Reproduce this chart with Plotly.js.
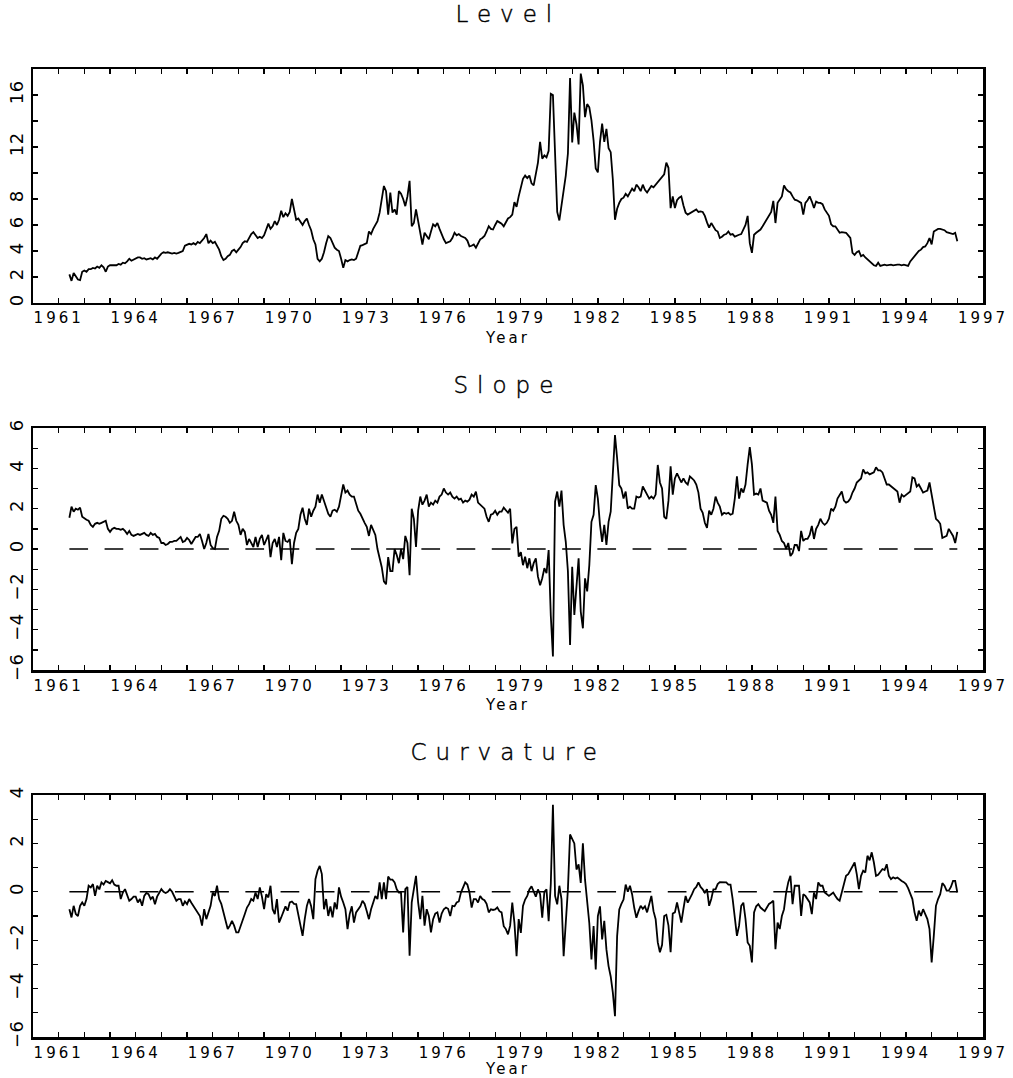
<!DOCTYPE html>
<html>
<head>
<meta charset="utf-8">
<script src="https://cdn.plot.ly/plotly-3.0.1.min.js"></script>
<style>
  html, body { margin: 0; padding: 0; background: #fff; }
  #chart { width: 1013px; height: 1078px; }
  #chart svg text { letter-spacing: 3px; }
  #chart .ytick text, #chart .y2tick text, #chart .y3tick text { letter-spacing: 0.5px; }
  #chart .annotation-text { letter-spacing: 9px; stroke: #000; stroke-width: 0.45px; }
</style>
</head>
<body>
<div id="chart"></div>
<script>
// Monthly series, June 1961 – January 1996
const startYear = 1961;
const startMonth = 6;

const level = [
  2.2,1.7,2.3,2.0,1.8,1.75,2.4,                                   // 1961 Jun-Dec
  2.5,2.4,2.6,2.6,2.7,2.65,2.8,2.7,2.9,2.75,2.4,2.8,              // 1962
  2.9,2.9,2.85,2.9,3.0,2.95,3.1,3.05,3.2,3.4,3.25,3.35,           // 1963
  3.45,3.5,3.5,3.4,3.45,3.35,3.4,3.45,3.35,3.5,3.4,3.6,           // 1964
  3.8,3.9,3.85,3.9,3.85,3.8,3.85,3.8,3.85,3.9,4.0,4.4,            // 1965
  4.5,4.55,4.5,4.6,4.5,4.7,4.6,4.8,5.0,5.3,4.6,4.8,               // 1966
  4.6,4.7,4.4,4.1,3.6,3.3,3.4,3.6,3.7,4.0,4.1,3.9,                // 1967
  4.1,4.3,4.6,4.75,4.7,5.0,5.3,5.45,5.2,5.0,5.1,5.0,              // 1968
  5.2,5.6,6.1,5.7,5.9,6.3,6.0,6.4,7.1,6.6,6.9,6.7,                // 1969
  7.0,8.0,7.3,6.4,6.5,6.2,6.0,6.3,6.5,6.0,5.6,4.9,                // 1970
  4.5,3.4,3.2,3.4,3.9,4.6,5.15,5.0,4.6,4.25,4.1,4.0,              // 1971
  3.4,2.7,3.3,3.2,3.3,3.35,3.3,3.4,3.9,4.4,4.45,4.5,              // 1972
  4.6,5.5,5.3,5.7,6.05,6.3,6.95,8.0,9.0,8.6,6.8,8.5,              // 1973
  6.95,7.2,6.8,8.6,8.4,8.0,7.45,8.2,9.4,5.9,6.15,7.2,             // 1974
  6.2,5.2,4.5,5.4,5.1,4.9,5.5,6.05,5.9,6.15,5.7,5.25,             // 1975
  4.9,4.6,4.7,4.75,5.0,5.4,5.2,5.3,5.15,5.1,5.0,4.8,              // 1976
  4.35,4.4,4.5,4.25,4.6,4.9,5.0,5.15,5.5,5.9,5.7,5.65,            // 1977
  6.0,6.3,6.2,6.1,5.9,6.2,6.5,6.6,6.8,7.75,7.4,8.2,               // 1978
  8.8,9.55,9.8,9.6,9.8,9.2,9.05,10.05,10.8,12.4,11.1,11.35,       // 1979
  11.2,11.7,16.1,16.0,12.1,7.0,6.35,7.5,8.5,9.8,11.5,17.3,        // 1980
  12.35,14.65,13.75,12.2,17.65,16.75,14.3,15.3,15.05,14.05,12.5,10.35, // 1981
  10.05,12.4,13.8,12.4,13.4,11.9,11.6,9.5,6.4,7.25,7.7,8.0,       // 1982
  8.1,8.4,8.2,8.5,8.8,8.6,9.1,8.9,8.6,9.1,8.7,8.5,                // 1983
  8.8,9.0,8.9,9.1,9.25,9.5,9.65,9.9,10.8,10.4,7.3,8.2,            // 1984
  7.3,7.9,8.1,8.2,7.5,6.95,6.8,6.9,7.0,7.1,7.2,7.0,               // 1985
  7.05,7.0,6.7,6.2,5.8,6.15,5.9,5.6,5.5,5.0,5.1,5.25,             // 1986
  5.3,5.5,5.25,5.3,5.1,5.2,5.25,5.3,5.65,6.0,6.7,4.6,             // 1987
  3.85,5.25,5.4,5.5,5.65,5.9,6.2,6.4,6.8,7.0,7.85,6.15,           // 1988
  7.7,7.95,8.2,9.05,8.75,8.6,8.5,8.2,7.95,7.9,7.8,7.7,            // 1989
  6.8,7.7,7.9,8.2,7.8,7.3,7.8,7.7,7.7,7.6,7.2,6.9,                // 1990
  6.7,6.05,5.9,5.9,5.6,5.4,5.45,5.4,5.4,5.2,5.0,3.85,             // 1991
  3.7,3.9,4.0,3.6,3.7,3.5,3.35,3.2,3.1,2.9,2.85,3.1,              // 1992
  2.85,2.9,2.95,2.9,2.95,2.95,2.9,2.95,2.95,2.95,2.9,2.95,        // 1993
  2.9,2.85,3.2,3.4,3.6,3.8,4.0,4.1,4.3,4.35,4.6,5.0,              // 1994
  4.5,5.5,5.6,5.7,5.7,5.65,5.6,5.45,5.4,5.35,5.3,5.4,             // 1995
  4.75                                                            // 1996 Jan
];

const slope = [
  1.55,2.1,1.85,2.0,1.95,2.05,1.6,                                // 1961
  1.5,1.45,1.4,1.2,1.1,1.25,1.3,1.25,1.3,1.35,1.4,1.0,            // 1962
  0.85,1.0,1.05,1.0,1.0,0.95,1.0,0.9,0.75,0.9,0.7,0.65,           // 1963
  0.7,0.75,0.7,0.75,0.8,0.7,0.65,0.8,0.7,0.75,0.6,0.55,           // 1964
  0.3,0.3,0.2,0.25,0.35,0.35,0.4,0.4,0.5,0.6,0.35,0.4,            // 1965
  0.55,0.45,0.25,0.4,0.6,0.6,0.75,0.4,0.0,0.3,0.75,0.2,           // 1966
  0.05,0.0,0.6,0.9,1.5,1.65,1.6,1.5,1.3,1.4,1.85,1.4,             // 1967
  1.2,0.7,1.0,0.85,0.2,0.5,0.3,0.1,0.6,0.1,0.5,0.7,               // 1968
  0.2,0.5,0.7,-0.4,0.3,0.5,0.1,0.6,-0.55,0.8,0.4,0.35,            // 1969
  0.5,-0.75,0.3,0.8,1.0,1.7,2.05,1.5,1.2,2.0,1.6,1.9,             // 1970
  2.1,2.7,2.3,2.7,2.4,2.1,1.75,1.6,1.9,1.95,1.85,2.1,             // 1971
  2.6,3.2,2.8,2.9,2.7,2.6,2.6,2.3,1.9,1.75,1.5,1.3,               // 1972
  1.1,0.65,1.2,0.9,0.7,0.0,-0.5,-0.9,-1.6,-1.75,-0.4,-1.1,        // 1973
  -1.1,0.0,-0.3,-0.7,0.0,-0.5,0.65,0.3,-1.3,2.0,1.5,0.1,          // 1974
  1.9,2.6,2.2,2.4,2.7,2.1,2.3,2.2,2.4,2.3,2.6,2.7,                // 1975
  3.0,2.8,2.7,2.8,2.6,2.5,2.6,2.45,2.5,2.3,2.4,2.35,              // 1976
  2.45,2.7,2.6,2.85,2.3,2.2,2.1,2.0,1.6,1.35,1.7,1.75,            // 1977
  1.9,1.7,1.85,1.85,2.05,1.9,1.8,2.0,0.28,1.0,1.1,-0.38,          // 1978
  -0.15,-0.8,-0.38,-0.95,-0.46,-1.1,-0.7,-0.46,-1.37,-1.8,-1.45,-0.95, // 1979
  -1.2,-0.05,-3.3,-5.33,2.35,2.85,2.1,2.9,1.2,0.36,-1.1,-4.76,    // 1980
  -0.88,-3.27,-1.8,-0.46,-3.1,-3.93,-1.45,-2.1,-0.8,1.35,1.7,3.17, // 1981
  2.5,1.2,0.36,1.2,0.2,1.35,1.85,3.67,5.65,4.5,3.17,3.0,          // 1982
  2.5,2.85,2.0,2.1,2.0,2.0,2.6,2.55,2.6,3.1,2.9,2.7,              // 1983
  2.5,2.6,2.5,2.7,4.17,3.3,3.0,1.6,1.5,2.4,4.1,2.7,               // 1984
  3.5,3.75,3.5,3.3,3.5,3.3,3.2,3.6,3.5,3.4,3.2,2.8,               // 1985
  2.0,1.8,1.3,1.05,1.9,1.7,2.0,2.6,2.3,2.1,1.7,1.8,               // 1986
  1.75,1.8,1.7,1.75,2.5,3.6,2.5,3.0,2.8,3.2,4.2,5.05,             // 1987
  4.2,2.7,2.75,2.7,3.0,2.4,2.35,2.3,1.9,1.7,1.3,2.6,              // 1988
  0.9,0.7,0.4,0.3,0.0,0.3,-0.35,-0.2,0.2,0.2,-0.1,0.9,            // 1989
  0.4,0.5,0.5,0.7,1.15,0.5,1.0,1.2,1.5,1.3,1.2,1.3,               // 1990
  1.5,2.0,1.9,2.1,2.5,2.7,2.85,2.4,2.3,2.35,2.5,2.8,              // 1991
  3.0,3.3,3.4,3.5,3.95,3.75,3.8,3.7,3.75,3.8,4.05,3.9,            // 1992
  3.9,3.8,3.5,3.2,3.2,3.1,3.0,2.9,2.85,2.3,2.7,2.6,               // 1993
  2.7,2.8,2.85,3.55,3.5,3.1,3.2,3.0,2.8,2.85,2.9,3.3,             // 1994
  2.7,2.0,1.5,1.4,1.25,0.55,0.6,0.65,1.0,0.8,0.65,0.3,            // 1995
  0.85                                                            // 1996 Jan
];

const curvature = [
  -0.72,-1.06,-0.58,-0.92,-1.0,-0.58,-0.44,                       // 1961
  -0.58,-0.3,0.25,0.18,0.32,-0.17,0.25,0.1,0.39,0.3,0.45,0.4,     // 1962
  0.35,0.48,0.3,0.25,0.25,-0.3,-0.03,0.11,-0.1,-0.37,-0.3,-0.2,   // 1963
  -0.2,-0.44,-0.3,-0.58,-0.17,-0.05,-0.1,-0.3,-0.2,-0.51,-0.2,-0.05, // 1964
  0.11,0.0,-0.05,0.0,0.11,0.0,-0.17,-0.37,-0.3,-0.3,-0.58,-0.4,   // 1965
  -0.51,-0.3,-0.45,-0.58,-0.7,-0.85,-1.0,-1.4,-0.72,-1.13,-0.8,-0.58, // 1966
  -0.03,-0.17,0.25,-0.3,-0.5,-0.85,-1.27,-1.54,-1.4,-1.2,-1.4,-1.68, // 1967
  -1.68,-1.4,-1.1,-0.92,-0.65,-0.51,-0.3,-0.37,-0.03,-0.3,0.18,-0.2, // 1968
  -0.72,-0.1,-0.23,0.25,-0.72,-0.92,-0.3,-1.27,-1.06,-0.85,-0.6,-0.78, // 1969
  -0.44,-0.4,-0.5,-0.51,-1.0,-1.4,-1.82,-1.13,-0.58,-0.3,-0.6,-1.13, // 1970
  0.52,0.87,1.07,0.73,-0.72,-0.3,-1.0,-0.6,-1.06,-0.44,-0.72,0.18, // 1971
  -0.2,-0.44,-0.72,-1.54,-0.92,-0.6,-1.27,-0.85,-0.72,-0.6,-0.37,-0.5, // 1972
  -0.8,-1.13,-0.72,-0.4,-0.17,-0.3,0.39,-0.3,0.39,-0.3,0.63,0.5,  // 1973
  0.5,0.39,0.1,-0.03,-0.03,-1.68,0.11,0.2,-2.64,-0.44,0.11,0.66,  // 1974
  -0.44,-1.13,-0.17,-1.4,-0.72,-1.0,-1.68,-1.13,-0.9,-0.85,-1.27,-0.9, // 1975
  -0.72,-0.65,-0.7,-1.0,-0.58,-0.6,-0.44,-0.4,-0.03,0.2,0.39,0.3, // 1976
  -0.03,-0.65,-0.3,-0.3,-0.44,-0.17,-0.3,-0.35,-0.5,-0.85,-0.72,-0.75, // 1977
  -0.73,-0.65,-0.8,-0.85,-1.42,-1.54,-1.76,-1.4,-0.45,-1.28,-2.66,-1.13, // 1978
  -1.7,-0.58,-0.32,-0.17,0.1,0.23,0.0,-0.2,0.1,-0.1,-1.07,0.0,    // 1979
  0.1,-1.21,0.32,3.6,-0.17,-0.52,0.25,-0.3,-2.66,-1.42,0.1,2.37,  // 1980
  2.2,2.0,0.92,1.13,0.37,2.0,0.5,-0.45,-1.3,-2.8,-1.42,-3.21,     // 1981
  -1.0,-0.6,-1.97,-1.2,-2.38,-3.07,-3.5,-4.17,-5.14,-1.83,-0.73,-0.5, // 1982
  -0.32,0.3,0.0,0.25,-0.1,-0.66,-1.07,-0.8,-0.58,-0.7,-0.6,-0.85, // 1983
  -0.5,-0.17,-0.8,-1.13,-2.09,-2.5,-2.2,-1.0,-0.95,-1.4,-2.5,-0.9, // 1984
  -0.85,-0.44,-0.85,-1.27,-0.7,-0.17,-0.45,-0.3,-0.1,0.11,0.2,0.39, // 1985
  0.2,0.1,-0.03,0.11,-0.58,-0.3,0.1,0.1,0.32,0.4,0.39,0.39,       // 1986
  0.39,0.3,0.3,-0.3,-1.0,-1.82,-1.4,-0.58,-0.45,-1.13,-2.09,-2.23, // 1987
  -2.92,-0.85,-0.6,-0.51,-0.65,-0.72,-0.8,-0.65,-0.5,-0.44,-0.37,-2.37, // 1988
  -1.27,-1.54,-1.0,-0.72,-0.03,0.4,0.66,-0.51,0.25,0.25,0.25,-1.0, // 1989
  -0.1,-0.17,-0.3,-0.44,-0.92,-0.03,-0.3,0.39,0.25,0.25,-0.03,-0.1, // 1990
  -0.17,-0.1,-0.03,-0.17,-0.3,-0.37,-0.03,0.3,0.66,0.73,0.9,1.07, // 1991
  1.21,0.73,0.11,0.66,0.87,0.8,1.49,1.3,1.63,1.21,0.66,0.7,       // 1992
  0.8,0.94,0.9,1.14,0.66,0.52,0.6,0.55,0.59,0.5,0.45,0.4,         // 1993
  0.32,0.15,-0.05,-0.3,-0.85,-1.2,-0.78,-1.0,-0.72,-0.9,-1.13,-1.54, // 1994
  -2.92,-1.82,-0.58,-0.3,-0.1,0.36,0.25,0.05,0.05,0.2,0.45,0.45,  // 1995
  -0.03                                                           // 1996 Jan
];

const panelTitles = ['Level', 'Slope', 'Curvature'];
const xAxisTitle = 'Year';
const yearTicks = [];      // one tick per year, 1960..1997
const yearLabels = [];     // label every third year from 1961
for (let y = 1960; y <= 1997; y++) {
  yearTicks.push(y);
  yearLabels.push((y - 1961) % 3 === 0 ? String(y) : '');
}
const levelTicks = [0,2,4,6,8,10,12,14,16,18];
const levelLabels = ['0','2','4','6','8','','12','','16',''];
const slopeTicks = [-6,-5,-4,-3,-2,-1,0,1,2,3,4,5,6];
const slopeLabels = ['\u22126','','\u22124','','\u22122','','0','','2','','4','','6'];
const curvTicks = [-6,-5,-4,-3,-2,-1,0,1,2,3,4];
const curvLabels = ['\u22126','','\u22124','','\u22122','','0','','2','','4'];

// time axis from month index
const dates = level.map((_, i) => startYear + (startMonth - 1 + i) / 12);
const firstDate = dates[0];
const lastDate = dates[dates.length - 1];

const lineStyle = { color: '#000', width: 1.8 };
const zeroStyle = { color: '#000', width: 1.4, dash: '18.7px,16.5px' };

const traces = [
  { x: dates, y: level, type: 'scatter', mode: 'lines', line: lineStyle, xaxis: 'x', yaxis: 'y', hoverinfo: 'skip' },
  { x: [firstDate, lastDate], y: [0, 0], type: 'scatter', mode: 'lines', line: zeroStyle, xaxis: 'x2', yaxis: 'y2', hoverinfo: 'skip' },
  { x: dates, y: slope, type: 'scatter', mode: 'lines', line: lineStyle, xaxis: 'x2', yaxis: 'y2', hoverinfo: 'skip' },
  { x: [firstDate, lastDate], y: [0, 0], type: 'scatter', mode: 'lines', line: zeroStyle, xaxis: 'x3', yaxis: 'y3', hoverinfo: 'skip' },
  { x: dates, y: curvature, type: 'scatter', mode: 'lines', line: lineStyle, xaxis: 'x3', yaxis: 'y3', hoverinfo: 'skip' }
];

const tickFont = { family: 'DejaVu Sans', size: 15, color: '#000', weight: 400 };

function xAxis(anchor) {
  return {
    anchor: anchor, domain: [0, 1], range: [1960, 1997],
    tickmode: 'array', tickvals: yearTicks, ticktext: yearLabels,
    ticks: 'inside', ticklen: 5, tickwidth: 1.3, tickcolor: '#000',
    showline: true, linewidth: 2.5, linecolor: '#000', mirror: 'allticks',
    showgrid: false, zeroline: false,
    tickfont: tickFont,
    title: { text: xAxisTitle, font: tickFont, standoff: 6 }
  };
}
function yAxis(anchor, domain, range, vals, labels) {
  return {
    anchor: anchor, domain: domain, range: range,
    tickmode: 'array', tickvals: vals, ticktext: labels, tickangle: -90,
    ticks: 'inside', ticklen: 5, tickwidth: 1.3, tickcolor: '#000',
    showline: true, linewidth: 2.5, linecolor: '#000', mirror: 'allticks',
    showgrid: false, zeroline: false,
    tickfont: { family: 'DejaVu Sans', size: 18, color: '#000', weight: 400 }
  };
}

const titleFont = { family: 'DejaVu Sans', size: 23, color: '#000', weight: 200 };

const layout = {
  width: 1013, height: 1078,
  margin: { l: 33, r: 30, t: 69, b: 41 },
  paper_bgcolor: '#fff', plot_bgcolor: '#fff',
  showlegend: false,
  font: { family: 'DejaVu Sans', color: '#000' },
  xaxis: xAxis('y'),
  xaxis2: xAxis('y2'),
  xaxis3: xAxis('y3'),
  yaxis: yAxis('x', [0.7583, 1], [0, 18], levelTicks, levelLabels),
  yaxis2: yAxis('x2', [0.3791, 0.6291], [-6, 6], slopeTicks, slopeLabels),
  yaxis3: yAxis('x3', [0, 0.25], [-6, 4], curvTicks, curvLabels),
  annotations: [
    { text: panelTitles[0], xref: 'paper', yref: 'paper', x: 0.5, y: 1.0568, yanchor: 'middle', showarrow: false, font: titleFont },
    { text: panelTitles[1], xref: 'paper', yref: 'paper', x: 0.5, y: 0.6736, yanchor: 'middle', showarrow: false, font: titleFont },
    { text: panelTitles[2], xref: 'paper', yref: 'paper', x: 0.5, y: 0.2944, yanchor: 'middle', showarrow: false, font: titleFont }
  ]
};

Plotly.newPlot('chart', traces, layout, { staticPlot: true, displayModeBar: false });
</script>
</body>
</html>
